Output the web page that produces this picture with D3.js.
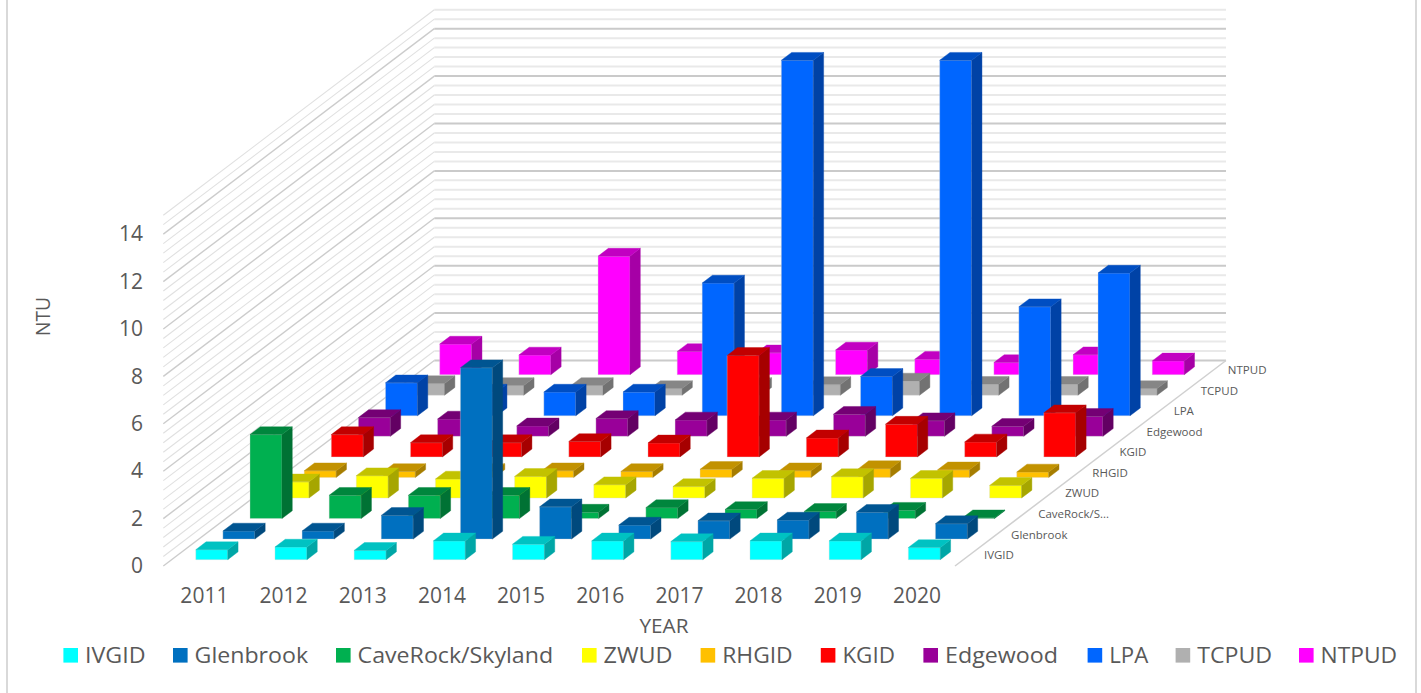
<!DOCTYPE html>
<html>
<head>
<meta charset="utf-8">
<script src="https://cdn.jsdelivr.net/npm/d3@7"></script>
<style>
  html, body { margin: 0; padding: 0; background: #fff; }
  svg { display: block; }
  text { font-family: "Open Sans", sans-serif; fill: #595959; }
</style>
</head>
<body>
<div id="chart"></div>
<script>
const years = ["2011", "2012", "2013", "2014", "2015", "2016", "2017", "2018", "2019", "2020"];
const seriesNames = ["IVGID", "Glenbrook", "CaveRock/Skyland", "ZWUD", "RHGID", "KGID", "Edgewood", "LPA", "TCPUD", "NTPUD"];
const valueTicks = [0, 2, 4, 6, 8, 10, 12, 14];

// NTU values, one list per district
const ivgid     = [0.42, 0.53, 0.39, 0.79, 0.65, 0.79, 0.76, 0.79, 0.79, 0.51];
const glenbrook = [0.34, 0.34, 1.00, 7.23, 1.36, 0.59, 0.77, 0.80, 1.13, 0.65];
const caveRock  = [3.54, 0.98, 0.98, 0.98, 0.27, 0.46, 0.38, 0.30, 0.35, 0.03];
const zwud      = [0.68, 0.94, 0.80, 0.91, 0.56, 0.48, 0.83, 0.90, 0.83, 0.53];
const rhgid     = [0.28, 0.25, 0.25, 0.28, 0.25, 0.34, 0.28, 0.37, 0.32, 0.23];
const kgid      = [0.94, 0.60, 0.60, 0.65, 0.59, 4.28, 0.80, 1.38, 0.63, 1.86];
const edgewood  = [0.79, 0.73, 0.44, 0.75, 0.69, 0.69, 0.93, 0.66, 0.42, 0.84];
const lpa       = [1.39, 1.00, 1.00, 1.00, 5.60, 15.0, 1.66, 15.0, 4.60, 6.02];
const tcpud     = [0.49, 0.41, 0.41, 0.28, 0.41, 0.45, 0.60, 0.46, 0.46, 0.28];
const ntpud     = [1.29, 0.83, 5.00, 0.98, 0.92, 1.04, 0.65, 0.51, 0.84, 0.58];
const seriesValues = [ivgid, glenbrook, caveRock, zwud, rhgid, kgid, edgewood, lpa, tcpud, ntpud];

const seriesColors = ["#00FFFF", "#0070C0", "#00B050", "#FFFF00", "#FFC000", "#FF0000", "#990099", "#0066FF", "#B0B0B0", "#FF00FF"];

// legend layout, measured
const legendSwatchX = [63.4, 173, 336, 582, 700.6, 820.8, 923.4, 1087.6, 1175.6, 1299];
const legendTextWidth = [60.5, 113.5, 195.5, 69, 70.5, 52.5, 113, 39, 75, 76.5];

const width = 1421, height = 693;

// oblique projection of the 3D box
const FLOOR_LEFT = 163.3, FLOOR_RIGHT = 955, FLOOR_Y = 566;
const ROW_DX = 27.1, ROW_DY = 20.55;
const AXIS_MAX = 14.8, AXIS_HEIGHT = 350.8;

const project = (x, row, h) => [x + row * ROW_DX, FLOOR_Y - row * ROW_DY - h];

const xBand = d3.scaleBand().domain(years).range([FLOOR_LEFT, FLOOR_RIGHT])
    .paddingInner(0.596).paddingOuter(0.298);
const rowBand = d3.scaleBand().domain(seriesNames).range([0, 10])
    .paddingInner(0.62).paddingOuter(0.31);
const h = d3.scaleLinear().domain([0, AXIS_MAX]).range([0, AXIS_HEIGHT]);
const yAxisScale = d3.scaleLinear().domain([0, AXIS_MAX]).range([FLOOR_Y, FLOOR_Y - AXIS_HEIGHT]);

const svg = d3.select("#chart").append("svg")
    .attr("width", width)
    .attr("height", height);

// side frame of the chart area
svg.selectAll("line.frame")
    .data([7, 1416])
    .enter().append("line")
    .attr("class", "frame")
    .attr("x1", d => d).attr("x2", d => d)
    .attr("y1", 0).attr("y2", height)
    .attr("stroke", "#d9d9d9")
    .attr("stroke-width", 2);

//////////////////////
//      WALLS
//////////////////////
const gridValues = d3.range(0, AXIS_MAX + 0.01, 0.4);
const isMajor = i => i % 5 === 0;

const grid = svg.append("g");
grid.selectAll("path.side")
    .data(gridValues)
    .enter().append("path")
    .attr("class", "side")
    .attr("d", d => d3.line()([project(FLOOR_LEFT, 0, h(d)), project(FLOOR_LEFT, 10, h(d))]))
    .attr("fill", "none")
    .attr("stroke", (d, i) => isMajor(i) ? "#cccccc" : "#e0e0e0")
    .attr("stroke-width", (d, i) => isMajor(i) ? 1.4 : 1.1);

grid.selectAll("path.back")
    .data(gridValues)
    .enter().append("path")
    .attr("class", "back")
    .attr("d", d => d3.line()([project(FLOOR_LEFT, 10, h(d)), project(FLOOR_RIGHT, 10, h(d))]))
    .attr("fill", "none")
    .attr("stroke", (d, i) => isMajor(i) ? "#cacaca" : "#e9e9e9")
    .attr("stroke-width", 2);

// right floor edge
grid.append("path")
    .attr("d", d3.line()([project(FLOOR_RIGHT, 0, 0), project(FLOOR_RIGHT, 10, 0)]))
    .attr("stroke", "#d0d0d0")
    .attr("stroke-width", 1.5);

//////////////////////
//      BARS
//////////////////////
const bars = [];
seriesNames.forEach((name, s) => {
    years.forEach((year, y) => {
        bars.push({ name, year, value: seriesValues[s][y], color: seriesColors[s], s });
    });
});
bars.sort((a, b) => b.s - a.s);

const shade = (color, k) => {
    const c = d3.rgb(color);
    return d3.rgb(c.r * k, c.g * k, c.b * k).formatHex();
};

const faces = d => {
    const x0 = xBand(d.year) + 0.5, x1 = x0 + xBand.bandwidth();
    const r0 = rowBand(d.name), r1 = r0 + rowBand.bandwidth();
    const t = h(d.value);
    return {
        front: [project(x0, r0, 0), project(x1, r0, 0), project(x1, r0, t), project(x0, r0, t)],
        side: [project(x1, r0, 0), project(x1, r1, 0), project(x1, r1, t), project(x1, r0, t)],
        top: [project(x0, r0, t), project(x1, r0, t), project(x1, r1, t), project(x0, r1, t)]
    };
};
const poly = pts => d3.line()(pts) + "Z";

const bar = svg.append("g").selectAll("g.bar")
    .data(bars)
    .enter().append("g")
    .attr("class", "bar");

// front first so the darker faces sit on top of its pale edge
const faceShades = { front: 1, side: 0.65, top: 0.76 };
Object.keys(faceShades).forEach(face => {
    bar.append("path")
        .attr("d", d => poly(faces(d)[face]))
        .attr("fill", d => shade(d.color, faceShades[face]))
        .attr("stroke", d => face === "front" ? "#d4d4d4" : shade(d.color, faceShades[face]))
        .attr("stroke-opacity", face === "front" ? 0.6 : 1)
        .attr("stroke-width", face === "front" ? 0.6 : 0.4);
});

//////////////////////
//      AXES
//////////////////////
const yAxis = svg.append("g")
    .attr("transform", "translate(143,-0.8)")
    .call(d3.axisLeft(yAxisScale).tickValues(valueTicks).tickSize(0).tickPadding(0));
yAxis.select(".domain").remove();
yAxis.selectAll("text")
    .attr("dy", "0.36em")
    .style("font-size", "21px")
    .style("font-family", "'Open Sans', sans-serif");

const xAxis = svg.append("g")
    .attr("transform", "translate(1.5,588.3)")
    .call(d3.axisBottom(xBand).tickSize(0).tickPadding(0));
xAxis.select(".domain").remove();
xAxis.selectAll("text")
    .style("font-size", "21px")
    .style("font-family", "'Open Sans', sans-serif");

// depth axis labels along the right floor edge
svg.selectAll("text.depth")
    .data(seriesNames)
    .enter().append("text")
    .attr("class", "depth")
    .attr("x", d => project(FLOOR_RIGHT, rowBand(d) + rowBand.bandwidth() / 2, 0)[0] + 15.4)
    .attr("y", d => project(FLOOR_RIGHT, rowBand(d) + rowBand.bandwidth() / 2, 0)[1] + 3.4)
    .style("font-size", "11.5px")
    .text(d => d.length > 12 ? d.slice(0, 10) + "..." : d);

// axis titles
svg.append("text")
    .attr("transform", "translate(50,316.5) rotate(-90)")
    .attr("text-anchor", "middle")
    .attr("textLength", 39)
    .attr("lengthAdjust", "spacingAndGlyphs")
    .style("font-size", "20px")
    .text("NTU");

svg.append("text")
    .attr("x", 639.5)
    .attr("y", 632.5)
    .attr("textLength", 49)
    .attr("lengthAdjust", "spacingAndGlyphs")
    .style("font-size", "20px")
    .text("YEAR");

//////////////////////
//      LEGEND
//////////////////////
const legend = svg.selectAll("g.legend")
    .data(seriesNames)
    .enter().append("g")
    .attr("class", "legend")
    .attr("transform", (d, i) => `translate(${legendSwatchX[i]},0)`);

legend.append("rect")
    .attr("y", 648)
    .attr("width", 14.6)
    .attr("height", 14.6)
    .attr("fill", (d, i) => seriesColors[i]);

legend.append("text")
    .attr("x", 21.6)
    .attr("y", 662.7)
    .attr("textLength", (d, i) => legendTextWidth[i])
    .attr("lengthAdjust", "spacingAndGlyphs")
    .style("font-size", "22px")
    .text(d => d);
</script>
</body>
</html>
